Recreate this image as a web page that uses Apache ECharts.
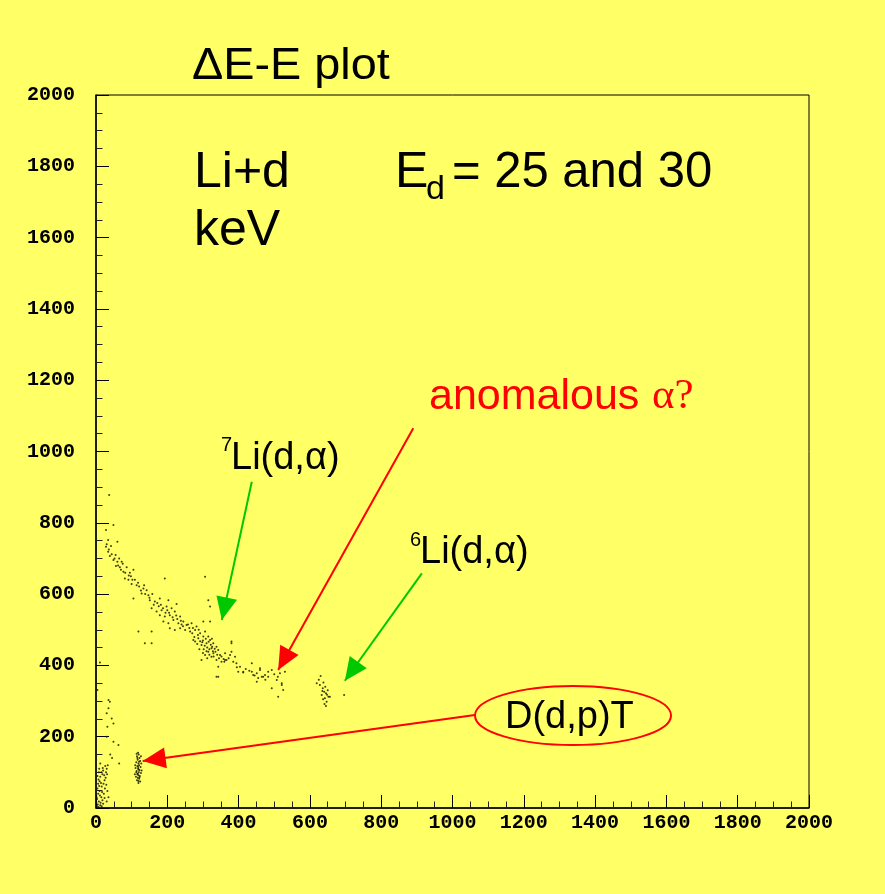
<!DOCTYPE html>
<html>
<head>
<meta charset="utf-8">
<script src="https://cdn.jsdelivr.net/npm/echarts@6/dist/echarts.min.js"></script>
<style>
html,body{margin:0;padding:0;background:#ffff66;}
#chart{width:885px;height:894px;}
</style>
</head>
<body>
<div id="chart"></div>
<script>
// Axis ticks
const xTicks = [0,200,400,600,800,1000,1200,1400,1600,1800,2000];
const yTicks = [0,200,400,600,800,1000,1200,1400,1600,1800,2000];

// 7Li(d,alpha) band  [E, dE]
const band7Li = [
[37,878],[49,794],[28,780],[34,752],[60,747],[28,733],[34,719],[39,707],[49,696],[60,691],
[72,691],[56,679],[67,675],[86,675],[77,663],[95,660],[105,668],[81,644],[91,640],[109,640],
[100,628],[121,621],[133,616],[142,611],[128,602],[147,597],[105,588],[151,583],[165,579],[179,588],
[193,644],[306,649],[203,583],[226,572],[156,560],[170,551],[184,555],[198,565],[212,560],[179,541],
[193,537],[207,541],[221,551],[236,537],[315,583],[189,523],[203,518],[217,527],[231,518],[245,523],
[254,513],[268,518],[282,509],[207,504],[221,499],[236,504],[250,499],[264,495],[278,499],[119,495],
[156,495],[292,490],[306,495],[315,481],[301,481],[287,476],[273,471],[320,471],[329,462],[310,462],
[296,457],[278,467],[324,448],[338,452],[315,438],[329,434],[343,443],[306,429],[324,424],[296,415],
[348,429],[362,434],[376,429],[380,462],[366,415],[385,410],[394,406],[338,415],[343,396],[352,410],
[338,368],[404,396],[399,382],[413,380],[156,462],[137,462],[437,382],[451,378],[460,387],[465,368],
[451,354],[474,373],[483,382],[493,387],[493,336],[507,359],[516,378],[521,350],[525,331],[511,312],
[530,382],[11,408],[320,565],[301,523],[320,523],[380,467],[380,438],[390,424],[362,415],[413,382],
[437,406],[460,392],[441,373],[469,368],[483,368],[521,345],[343,368],
[300,470],[305,455],[312,450],[318,445],[322,458],[328,440],[333,447],[310,440],[302,445],[298,465],
[316,466],[326,452],[335,438],[340,430],[308,475],[292,468],[286,485],[325,475],[330,425],[318,430],
[345,420],[352,425],[358,418],[312,420],[300,435],[290,445],[284,460],[276,480],[270,490],[262,505],
[244,510],[238,525],[228,530],[215,535],[205,548],[195,548],[188,560],[176,566],[162,570],[150,590],
[138,600],[126,610],[114,625],[102,640],[92,652],[82,660],[70,668],[62,680],[52,700],[44,712],
[36,725],[30,740],[42,735],[55,710],[65,700],[75,685],[98,650],[118,632],[135,625],[158,600],
[172,575],[182,570],[200,555],[225,540],[240,515],[258,515],[272,505],[288,500],[360,410],[372,420],
[395,395],[420,390],[430,385],[445,372],[455,365],[475,360],[500,375],[510,368]
];

// 6Li(d,alpha) group
const group6Li = [
[630,370],[628,345],[636,336],[640,326],[645,322],[633,317],[652,312],[642,308],[647,298],[645,286],
[656,312],[619,350],[696,317],[625,360],[638,352],[643,340],[650,330],[637,305],[648,318],[641,292],
[635,328]
];

// low-energy group near origin
const lowGroup = [
[5,10],[8,18],[3,25],[12,8],[15,30],[6,40],[10,48],[18,22],[20,12],[4,55],
[9,62],[14,70],[22,40],[25,55],[7,80],[12,88],[18,95],[24,78],[28,100],[30,110],
[33,120],[26,118],[20,105],[16,60],[11,35],[3,5],[7,3],[13,15],[17,45],[21,68],
[27,85],[31,95],[2,30],[6,68],[10,75],[15,100],[19,112],[23,92],[29,65],[32,48],
[35,30],[4,90],[8,100],[1,15],[12,125],[24,28],[30,18],[16,5],[9,110],
[4,331],[35,303],[39,298],[35,280],[30,266],[44,251],[49,237],[32,228],[30,200],[49,186],
[63,177],[65,125],[40,150],[45,140]
];

// D(d,p)T group
const groupDdpT = [
[118,155],[120,150],[115,145],[122,140],[117,135],[124,132],[113,128],[119,125],[121,120],[116,118],
[125,115],[111,112],[118,110],[122,106],[114,104],[120,100],[126,98],[116,95],[119,92],[123,90],
[112,88],[117,85],[121,82],[115,78],[119,76],[124,74],[110,120],[127,125],[113,100],[128,105],
[116,140],[121,130],[118,115],[120,108],[117,96],[122,86],[119,70],[109,95],[126,145],[114,152]
];

// annotation arrows: [from, to] in data coordinates
const arrows = [
  {from:[437,915], to:[353,527], color:'#00c800'},
  {from:[890,1065], to:[511,387], color:'#ff0000'},
  {from:[914,658], to:[698,357], color:'#00c800'},
  {from:[1063,261], to:[131,132], color:'#ff0000'}
];

const chart = echarts.init(document.getElementById('chart'));
const dotStyle = {color:'#1a1a00', opacity:0.85};
const tickFont = {fontFamily:'Liberation Mono', fontWeight:'bold', fontSize:20, color:'#000'};

const sansF = '"Liberation Sans", Arial, sans-serif';
function txt(text, x, y, size, opts) {
  opts = opts || {};
  return {
    type:'text', x:x, y:y, scaleX: opts.sx || 1, z:100,
    style:{text:text, fontSize:size, fontFamily: opts.family || sansF,
      fill: opts.color || '#000', align:'left', verticalAlign:'middle'}
  };
}

chart.setOption({
  backgroundColor:'#ffff66',
  animation:false,
  grid:{left:96, top:95, width:713, height:713, show:true, borderColor:'#000', borderWidth:1},
  xAxis:{
    type:'value', min:0, max:2000, interval:200,
    axisLine:{lineStyle:{color:'#000', width:1.5}},
    axisTick:{inside:true, length:13, lineStyle:{color:'#000'}},
    minorTick:{show:true, splitNumber:4, length:6.5, lineStyle:{color:'#222'}},
    splitLine:{show:false},
    axisLabel:Object.assign({margin:5, formatter:v => xTicks.includes(v) ? String(v) : ''}, tickFont)
  },
  yAxis:{
    type:'value', min:0, max:2000, interval:200,
    axisLine:{lineStyle:{color:'#000', width:1.5}},
    axisTick:{inside:true, length:13, lineStyle:{color:'#000'}},
    minorTick:{show:true, splitNumber:4, length:6.5, lineStyle:{color:'#222'}},
    splitLine:{show:false},
    axisLabel:Object.assign({margin:21, formatter:v => yTicks.includes(v) ? String(v) : ''}, tickFont)
  },
  series:[
    {type:'scatter', data:band7Li, symbolSize:2, itemStyle:dotStyle, silent:true},
    {type:'scatter', data:group6Li, symbolSize:2, itemStyle:dotStyle, silent:true},
    {type:'scatter', data:lowGroup, symbolSize:2, itemStyle:dotStyle, silent:true},
    {type:'scatter', data:groupDdpT, symbolSize:2, itemStyle:dotStyle, silent:true},
    {type:'scatter', data:[], silent:true,
      markLine:{
        silent:true, animation:false,
        label:{show:false},
        data: arrows.map(a => [
          {coord:a.from, symbol:'none', lineStyle:{color:a.color, width:2, type:'solid'}},
          {coord:a.to, symbol:'triangle', symbolSize:[21,23], symbolOffset:[0,11.5], itemStyle:{color:a.color}}
        ])
      }
    }
  ],
  graphic:[
    txt('\u0394E-E plot', 192, 67, 45, {sx:1.04}),
    txt('Li+d', 194, 173, 50),
    txt('keV', 194, 231, 50),
    txt('E', 395, 173, 50),
    txt('d', 426, 190, 34),
    txt('= 25 and 30', 452, 173, 50, {sx:0.98}),
    txt('anomalous ', 429, 397, 43, {color:'#ff0000'}),
    txt('\u03b1?', 652, 397, 43, {color:'#ff0000', family:'"Liberation Serif", serif'}),
    txt('7', 221, 445, 20),
    txt('Li(d,\u03b1)', 231, 459, 38),
    txt('6', 410, 540, 20),
    txt('Li(d,\u03b1)', 420, 553, 38),
    {type:'ellipse', shape:{cx:573, cy:715.5, rx:98, ry:29.5}, z:99,
      style:{fill:'rgba(0,0,0,0)', stroke:'#ff0000', lineWidth:2}},
    txt('D(d,p)T', 505, 718, 38)
  ]
});
</script>
</body>
</html>
